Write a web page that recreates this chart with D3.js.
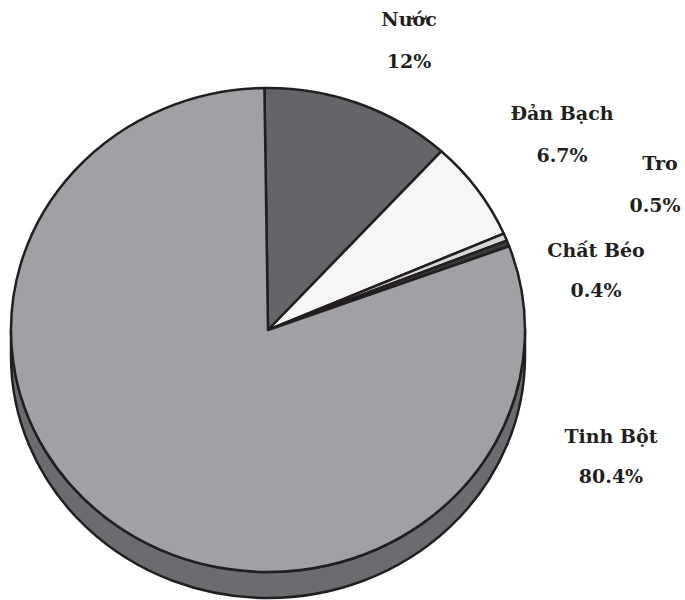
<!DOCTYPE html>
<html><head><meta charset="utf-8">
<script src="https://cdn.jsdelivr.net/npm/d3@7"></script>
<style>body{margin:0;background:#fff}</style>
</head><body>
<svg id="c" width="685" height="600"></svg>
<script>
const categories = ["Nước", "Đản Bạch", "Tro", "Chất Béo", "Tinh Bột"];
const values = [12, 6.7, 0.5, 0.4, 80.4];
const valueLabels = ["12%", "6.7%", "0.5%", "0.4%", "80.4%"];
const colors = ["#646568", "#f6f6f6", "#d6d6d6", "#3a3a3c", "#a0a1a5"];

const svg = d3.select("#c");
const cx = 268, cy = 330, rx = 257, ry = 242, depth = 26;
const sideColor = "#6b6c6f";
const strokeC = "#231f20";

svg.append("path")
  .attr("d", `M${cx+rx},${cy} A${rx},${ry} 0 0 1 ${cx-rx},${cy} L${cx-rx},${cy+depth} A${rx},${ry} 0 0 0 ${cx+rx},${cy+depth} Z`)
  .attr("fill", sideColor).attr("stroke", strokeC).attr("stroke-width", 2.5).attr("stroke-linejoin","round");

const start = -0.8 * Math.PI / 180;
const pie = d3.pie().sort(null).startAngle(start).endAngle(start + 2*Math.PI);
const arcs = pie(values);
const arc = d3.arc().innerRadius(0).outerRadius(rx);

const g = svg.append("g").attr("transform", `translate(${cx},${cy}) scale(1,${ry/rx})`);
g.selectAll("path").data(arcs).join("path")
  .attr("d", arc)
  .attr("fill", (d,i) => colors[i])
  .attr("stroke", strokeC).attr("stroke-width", 2.5)
  .attr("vector-effect", "non-scaling-stroke")
  .attr("stroke-linejoin", "round");

const labelPos = [
  {x1:409, x2:409, y1:26, y2:68},
  {x1:562, x2:562, y1:120, y2:162},
  {x1:660, x2:655, y1:170, y2:212},
  {x1:596, x2:596, y1:257, y2:297},
  {x1:611, x2:611, y1:443, y2:483}
];
const lab = svg.append("g");
categories.forEach((c, i) => {
  const p = labelPos[i];
  [[c, p.x1, p.y1], [valueLabels[i], p.x2, p.y2]].forEach(([t, x, y]) => {
    lab.append("text").attr("x", x).attr("y", y).attr("text-anchor","middle")
      .attr("font-family", "'DejaVu Serif', serif").attr("font-weight","bold").attr("font-size", 19)
      .attr("fill","#231f20").text(t);
  });
});
</script>
</body></html>
